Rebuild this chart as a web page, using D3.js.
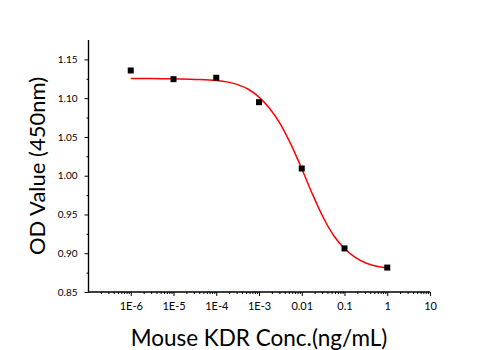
<!DOCTYPE html>
<html><head><meta charset="utf-8">
<script src="https://cdn.jsdelivr.net/npm/d3@7"></script>
<style>body{margin:0;background:#fff;} svg{display:block;font-family:Lato,"Open Sans",sans-serif;}</style>
</head><body>
<svg id="c" width="501" height="350"></svg>
<script>
const concentrations = [1e-6, 1e-5, 1e-4, 1e-3, 0.01, 0.1, 1];
const odValues = [1.1357, 1.1245, 1.1263, 1.0948, 1.0093, 0.9062, 0.8815];
const fitConc = [1e-6, 3.162e-6, 1e-5, 3.162e-5, 1e-4, 1.778e-4, 3.162e-4, 5.623e-4, 1e-3, 1.778e-3, 3.162e-3, 5.623e-3, 0.01, 0.01778, 0.03162, 0.05623, 0.1, 0.1778, 0.3162, 0.5623, 1];
const fitOD = [1.1254, 1.1252, 1.1249, 1.1242, 1.1228, 1.1210, 1.1175, 1.1115, 1.1013, 1.0866, 1.0666, 1.0400, 1.0090, 0.9762, 0.9464, 0.9225, 0.9060, 0.8946, 0.8874, 0.8832, 0.8810];
const xTickVals = [1e-6, 1e-5, 1e-4, 1e-3, 0.01, 0.1, 1, 10];
const xTickLabels = ["1E-6", "1E-5", "1E-4", "1E-3", "0.01", "0.1", "1", "10"];
const yTickVals = [0.85, 0.90, 0.95, 1.00, 1.05, 1.10, 1.15];
const yTitle = "OD Value (450nm)";
const xTitle = "Mouse KDR Conc.(ng/mL)";

const svg = d3.select("#c");
const x = d3.scaleLog().domain([1e-7, 10]).range([88, 430]);
const y = d3.scaleLinear().domain([0.85, 1.175]).range([292, 40]);

// x axis minor ticks
const minor = [];
for (let e = -7; e < 1; e++) for (let k = 2; k <= 9; k++) minor.push(k * Math.pow(10, e));
const gx = svg.append("g").attr("transform", "translate(0,292)");
gx.call(d3.axisBottom(x).tickValues(minor).tickSize(2).tickFormat(""));
gx.append("g").call(d3.axisBottom(x).tickValues(xTickVals).tickSize(4).tickFormat((d, i) => xTickLabels[i]).tickPadding(6));
gx.selectAll(".domain").attr("stroke", "#000").attr("stroke-width", 1.2).attr("d", "M88,0H430");
gx.selectAll("line").attr("stroke", "#000").attr("stroke-width", 1);
gx.selectAll("text").attr("font-size", 11).attr("fill", "#000").attr("font-family", "Lato");

// y axis
const gy = svg.append("g").attr("transform", "translate(88.5,0)");
const yMinor = d3.range(0.875, 1.17, 0.05);
gy.call(d3.axisLeft(y).tickValues(yMinor).tickSize(2).tickFormat(""));
gy.append("g").call(d3.axisLeft(y).tickValues(yTickVals).tickSize(4).tickFormat(d3.format(".2f")).tickPadding(7));
gy.selectAll(".domain").attr("stroke", "#000").attr("stroke-width", 1.2).attr("d", "M0,40V292");
gy.selectAll("line").attr("stroke", "#000");
gy.selectAll("text").attr("font-size", 10).attr("fill", "#000").attr("font-family", "Lato");

// fit curve
const line = d3.line().x((d, i) => x(fitConc[i])).y(d => y(d)).curve(d3.curveMonotoneX);
svg.append("path").attr("d", line(fitOD)).attr("fill", "none").attr("stroke", "#ff0000").attr("stroke-width", 1.5);

// points
svg.selectAll("rect.pt").data(odValues).enter().append("rect")
  .attr("class", "pt")
  .attr("x", (d, i) => x(concentrations[i]) - 3)
  .attr("y", d => y(d) - 3)
  .attr("width", 6).attr("height", 6).attr("fill", "#000");

// titles
svg.append("text").attr("transform", "translate(45,166) rotate(-90)").attr("text-anchor", "middle")
  .attr("font-size", 22).attr("fill", "#000").text(yTitle);
svg.append("text").attr("x", 259).attr("y", 346).attr("text-anchor", "middle")
  .attr("font-size", 22.5).attr("fill", "#000").text(xTitle);
</script>
</body></html>
